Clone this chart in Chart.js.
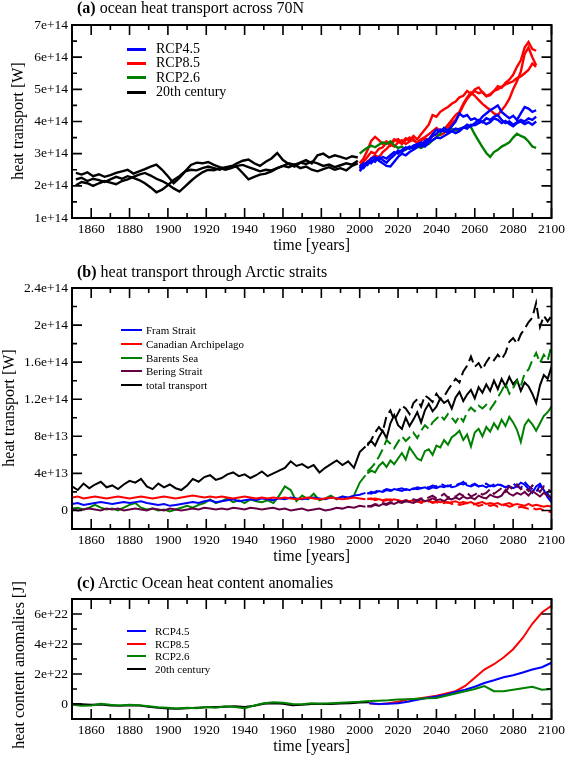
<!DOCTYPE html>
<html>
<head>
<meta charset="utf-8">
<script src="https://cdn.jsdelivr.net/npm/chart.js@4/dist/chart.umd.min.js"></script>
<style>
  html, body { margin: 0; padding: 0; background: #fff; overflow: hidden; }
  #page { position: relative; width: 568px; height: 757px; overflow: hidden; font-family: "Liberation Serif", "DejaVu Serif", serif; color: #000; }
  .box { position: absolute; left: 0; width: 568px; }
  .ptitle { position: absolute; left: 77px; font-size: 16px; line-height: 20px; white-space: nowrap; }
  .ytitle { position: absolute; font-size: 16px; white-space: nowrap; transform: translate(-50%, -50%) rotate(-90deg); }
  .leg { position: absolute; white-space: nowrap; }
  .leg span { position: absolute; left: 0; }
</style>
</head>
<body>
<div id="page">
  <div class="box" style="top:0;height:257px"><canvas id="chart_a"></canvas></div>
  <div class="box" style="top:257px;height:311px"><canvas id="chart_b"></canvas></div>
  <div class="box" style="top:568px;height:190px"><canvas id="chart_c"></canvas></div>

  <div class="ptitle" style="top:-2px"><b>(a)</b> ocean heat transport across 70N</div>
  <div class="ptitle" style="top:262px"><b>(b)</b> heat transport through Arctic straits</div>
  <div class="ptitle" style="top:573px"><b>(c)</b> Arctic Ocean heat content anomalies</div>

  <div class="ytitle" style="left:18px;top:121px">heat transport [W]</div>
  <div class="ytitle" style="left:9px;top:408px">heat transport [W]</div>
  <div class="ytitle" style="left:19px;top:665px">heat content anomalies [J]</div>

  <div id="legend_a"></div>
  <div id="legend_b"></div>
  <div id="legend_c"></div>
</div>

<script>
// ---------- panel (a): heat transport across 70N, units of 1e14 W ----------
var years_a_hist = [1852,1855,1858,1861,1864,1867,1870,1873,1876,1879,1882,1885,1888,1891,1894,1897,1900,1903,1906,1909,1912,1915,1918,1921,1924,1927,1930,1933,1936,1939,1942,1945,1948,1951,1954,1957,1960,1963,1966,1969,1972,1975,1978,1981,1984,1987,1990,1993,1996,1999];
var a_hist1 = [2.40,2.35,2.42,2.30,2.36,2.28,2.33,2.40,2.45,2.50,2.38,2.45,2.52,2.60,2.66,2.50,2.30,2.08,2.25,2.45,2.65,2.72,2.70,2.74,2.65,2.58,2.55,2.62,2.58,2.40,2.20,2.28,2.35,2.38,2.45,2.55,2.62,2.70,2.66,2.72,2.68,2.75,2.70,2.62,2.66,2.58,2.64,2.70,2.66,2.78];
var a_hist2 = [2.20,2.25,2.15,2.22,2.18,2.12,2.20,2.28,2.22,2.30,2.25,2.18,2.08,1.95,1.80,1.88,2.02,2.18,2.30,2.45,2.50,2.48,2.55,2.60,2.55,2.50,2.58,2.60,2.70,2.78,2.82,2.70,2.62,2.75,2.85,3.02,2.80,2.68,2.60,2.72,2.80,2.70,2.95,3.00,2.88,2.95,2.90,2.84,2.92,2.88];
var a_hist3 = [2.02,2.12,2.08,2.00,2.08,2.15,2.10,2.05,2.15,2.20,2.28,2.35,2.40,2.32,2.22,2.15,2.05,1.92,1.82,1.98,2.15,2.30,2.42,2.50,2.48,2.55,2.50,2.55,2.62,2.65,2.58,2.52,2.45,2.50,2.48,2.55,2.62,2.58,2.66,2.55,2.60,2.50,2.45,2.52,2.58,2.50,2.55,2.48,2.62,2.70];

var years_a_fut = [2000,2002,2004,2006,2008,2010,2012,2014,2016,2018,2020,2022,2024,2026,2028,2030,2032,2034,2036,2038,2040,2042,2044,2046,2048,2050,2052,2054,2056,2058,2060,2062,2064,2066,2068,2070,2072,2074,2076,2078,2080,2082,2084,2086,2088,2090,2092];
var a_rcp85_1 = [2.70,2.85,3.10,3.40,3.52,3.42,3.30,3.38,3.25,3.40,3.45,3.35,3.48,3.40,3.55,3.45,3.60,3.75,3.90,4.20,4.15,4.30,4.38,4.45,4.55,4.62,4.75,4.80,4.95,4.85,5.00,5.06,4.90,4.78,4.82,4.95,5.10,5.05,5.20,5.30,5.45,5.70,5.90,6.30,6.47,6.25,6.20];
var a_rcp85_2 = [2.60,2.75,2.90,3.05,3.00,3.15,3.20,3.35,3.30,3.45,3.38,3.30,3.42,3.50,3.40,3.35,3.45,3.52,3.60,3.70,3.80,3.72,3.75,3.90,4.05,4.20,4.30,4.55,4.75,4.90,4.80,4.67,4.55,4.45,4.36,4.25,4.20,4.35,4.50,4.70,5.00,5.25,5.55,6.10,6.30,6.00,5.75];
var a_rcp85_3 = [2.50,2.62,2.75,2.85,2.95,2.88,3.05,3.15,3.28,3.22,3.35,3.42,3.30,3.38,3.45,3.32,3.40,3.48,3.42,3.55,3.60,3.58,3.64,3.80,3.95,4.05,4.25,4.50,4.70,4.85,4.95,4.88,4.92,4.80,4.85,4.95,5.00,5.08,5.15,5.20,5.25,5.35,5.40,5.50,5.60,5.80,5.70];
var a_rcp45_1 = [2.45,2.60,2.75,2.70,2.85,2.80,2.90,2.85,2.95,3.05,3.00,3.12,3.20,3.15,3.25,3.30,3.22,3.40,3.45,3.60,3.75,3.68,3.80,3.72,3.85,4.00,4.25,4.15,4.20,4.05,4.10,4.00,4.15,4.25,4.35,4.42,4.50,4.30,4.20,4.10,4.18,4.05,4.25,4.45,4.40,4.30,4.35];
var a_rcp45_2 = [2.55,2.70,2.65,2.80,2.75,2.90,2.80,2.72,2.85,2.95,3.10,3.05,3.15,3.22,3.18,3.28,3.35,3.30,3.42,3.55,3.62,3.75,3.70,3.65,3.70,3.64,3.70,3.80,3.90,3.85,3.95,4.05,3.98,4.10,4.05,4.15,4.20,4.05,3.95,4.00,3.90,3.98,4.05,4.00,4.10,4.05,4.15];
var a_rcp45_3 = [2.65,2.55,2.70,2.85,2.90,2.78,2.70,2.62,2.60,2.75,2.90,3.00,2.95,3.05,3.12,3.20,3.28,3.22,3.35,3.42,3.50,3.48,3.55,3.62,3.70,3.78,3.75,3.82,3.78,3.90,3.88,3.95,4.00,3.92,3.98,4.10,4.05,3.95,4.02,3.92,3.85,3.95,4.00,3.92,3.98,3.90,4.00];
var a_rcp26 = [3.00,3.10,3.18,3.25,3.20,3.28,3.35,3.30,3.38,3.25,3.18,3.22,3.12,3.20,3.15,3.22,3.18,3.25,3.30,3.42,3.50,3.62,3.80,3.70,3.78,3.72,3.78,3.80,3.85,3.82,3.60,3.40,3.20,3.02,2.90,3.05,3.12,3.22,3.28,3.35,3.50,3.62,3.55,3.50,3.38,3.22,3.18];

var legend_a_names = ["RCP4.5", "RCP8.5", "RCP2.6", "20th century"];
var legend_a_colors = ["#0000ff", "#ff0000", "#008000", "#000000"];
var y_a_major = [1e14, 2e14, 3e14, 4e14, 5e14, 6e14, 7e14];
var y_a_minor = [1.5e14, 2.5e14, 3.5e14, 4.5e14, 5.5e14, 6.5e14];

// ---------- panel (b): straits, units of 1e13 W ----------
var years_b_hist = [1850,1853,1856,1859,1862,1865,1868,1871,1874,1877,1880,1883,1886,1889,1892,1895,1898,1901,1904,1907,1910,1913,1916,1919,1922,1925,1928,1931,1934,1937,1940,1943,1946,1949,1952,1955,1958,1961,1964,1967,1970,1973,1976,1979,1982,1985,1988,1991,1994,1997,2000,2003];
var b_total_hist = [2.6,2.2,2.9,2.4,2.8,3.1,2.5,2.7,2.3,2.8,3.2,3.0,3.4,2.6,2.3,2.9,2.5,2.8,2.4,2.2,2.7,3.4,3.1,3.6,3.8,3.3,3.5,3.9,4.1,3.7,3.9,3.5,3.8,4.2,3.7,4.0,4.3,4.6,5.3,4.8,5.0,4.6,4.9,4.1,4.6,5.0,5.4,4.9,5.3,4.6,6.3,6.9];
var b_barents_hist = [0.2,0.3,0.1,0.3,0.6,0.3,0.1,0.2,0.0,0.3,0.6,0.8,0.3,0.1,0.2,0.0,0.1,-0.1,0.1,0.3,0.5,0.3,0.6,0.8,1.2,0.8,1.0,1.3,0.9,1.1,0.8,1.2,1.0,0.9,1.1,0.8,1.6,2.6,2.2,1.0,1.6,1.2,1.8,1.1,1.3,1.6,1.2,1.5,1.3,1.6,3.0,3.8];
var b_fram_hist = [0.7,0.8,0.6,0.7,0.8,0.9,0.8,0.7,0.8,0.9,0.8,0.9,1.0,0.8,0.7,0.6,0.7,0.5,0.6,0.7,0.8,0.9,0.8,1.0,1.1,0.9,1.0,1.1,1.2,1.0,1.1,1.2,1.1,1.3,1.2,1.1,1.3,1.2,1.4,1.3,1.2,1.3,1.4,1.3,1.2,1.4,1.3,1.5,1.4,1.6,1.7,1.9];
var b_canadian_hist = [1.4,1.5,1.3,1.4,1.5,1.4,1.3,1.4,1.5,1.4,1.3,1.4,1.5,1.4,1.3,1.4,1.5,1.4,1.3,1.4,1.5,1.6,1.5,1.4,1.5,1.4,1.5,1.4,1.3,1.4,1.5,1.4,1.3,1.4,1.3,1.4,1.3,1.4,1.3,1.2,1.3,1.4,1.3,1.2,1.3,1.4,1.3,1.2,1.3,1.4,1.3,1.2];
var b_bering_hist = [0.2,0.0,0.1,0.2,0.1,0.0,0.2,0.1,0.2,0.0,0.1,0.2,0.1,0.0,0.2,0.1,0.0,0.2,0.1,0.0,0.1,0.2,0.1,0.3,0.2,0.1,0.2,0.1,0.3,0.2,0.1,0.3,0.2,0.1,0.2,0.3,0.1,0.2,0.0,0.1,0.2,0.0,0.1,0.2,0.0,0.1,0.3,0.2,0.4,0.3,0.5,0.4];

var years_b_fut = [2004,2006,2008,2010,2012,2014,2016,2018,2020,2022,2024,2026,2028,2030,2032,2034,2036,2038,2040,2042,2044,2046,2048,2050,2052,2054,2056,2058,2060,2062,2064,2066,2068,2070,2072,2074,2076,2078,2080,2082,2084,2086,2088,2090,2092,2094,2096,2098,2100];
var b_total_solid = [7.2,7.5,7.0,7.9,8.6,7.8,9.4,10.3,9.2,8.8,10.0,9.1,9.8,10.6,9.5,10.8,11.5,10.7,11.2,12.1,11.6,11.9,11.0,12.2,12.8,11.8,12.5,13.0,12.1,13.3,12.7,13.6,12.9,14.0,13.1,14.2,13.4,14.4,13.6,14.1,12.9,13.8,13.4,12.6,11.6,13.5,14.6,14.2,15.5];
var b_total_dash = [7.0,7.6,8.4,9.0,8.5,10.2,10.8,9.7,10.5,11.3,11.0,10.4,11.6,12.0,11.2,12.4,12.1,11.7,12.6,12.0,12.3,13.0,13.6,14.2,13.8,15.0,15.6,16.6,15.5,15.9,15.2,16.0,16.6,16.2,16.8,16.3,17.0,18.2,18.6,18.0,19.0,19.6,20.3,20.8,22.4,19.8,21.0,20.4,21.0];
var b_barents_solid = [4.0,4.3,4.1,4.8,5.2,4.7,5.4,5.0,5.6,6.2,5.5,6.8,6.2,5.6,5.4,6.4,6.6,6.0,7.0,6.8,7.6,7.1,7.9,8.2,8.6,7.6,8.2,6.9,8.4,8.8,8.0,9.0,8.5,9.4,8.8,9.8,9.1,10.1,9.5,8.7,7.4,9.2,9.8,9.3,8.6,9.4,10.2,10.6,11.2];
var b_barents_dash = [4.2,4.6,5.1,5.8,6.6,7.6,7.2,6.7,7.4,8.0,7.5,7.9,8.4,7.8,8.6,9.2,8.8,9.5,9.9,10.3,9.8,10.4,10.0,9.5,10.2,9.6,10.6,11.1,10.7,11.3,11.0,11.4,10.9,11.5,12.2,12.9,13.7,12.6,13.2,14.0,13.4,14.8,15.2,16.2,17.0,15.9,16.8,16.2,17.8];
var b_fram_solid = [1.8,2.0,1.9,2.1,2.0,2.2,2.1,2.3,2.2,2.1,2.3,2.2,2.4,2.3,2.4,2.5,2.3,2.5,2.4,2.6,2.5,2.7,2.5,2.6,2.8,3.1,2.7,2.6,2.8,2.6,2.7,2.5,2.7,2.6,2.8,2.7,2.5,2.6,2.4,2.6,3.0,2.8,2.3,1.9,2.6,2.9,2.2,1.4,0.9];
var b_fram_dash = [1.9,1.8,2.0,2.2,2.1,2.3,2.2,2.1,2.3,2.4,2.2,2.4,2.3,2.5,2.4,2.6,2.5,2.7,2.6,2.9,2.7,2.6,2.8,2.7,2.9,2.8,3.0,2.7,2.9,2.6,2.8,2.9,2.6,2.8,2.9,2.7,2.5,2.7,2.9,2.6,2.4,3.1,2.6,2.3,2.0,2.7,2.1,1.8,1.2];
var b_canadian_solid = [1.3,1.2,1.3,1.2,1.1,1.2,1.1,1.2,1.1,1.0,1.1,1.0,1.1,1.0,0.9,1.0,1.1,0.9,1.0,0.9,1.0,0.8,0.9,1.0,0.8,0.9,0.8,0.9,0.7,0.8,0.9,0.7,0.8,0.7,0.8,0.6,0.7,0.8,0.6,0.7,0.6,0.5,0.7,0.5,0.6,0.5,0.4,0.5,0.4];
var b_canadian_dash = [1.2,1.3,1.1,1.2,1.0,1.1,1.2,1.0,1.1,0.9,1.0,1.1,0.9,1.0,0.8,0.9,1.0,0.8,0.9,0.7,0.8,0.9,0.7,0.8,0.6,0.7,0.8,0.6,0.7,0.5,0.6,0.7,0.5,0.6,0.4,0.5,0.6,0.4,0.5,0.3,0.4,0.3,0.2,0.3,0.1,0.2,0.0,-0.1,-0.2];
var b_bering_solid = [0.5,0.4,0.6,0.5,0.7,0.6,0.8,0.7,0.9,0.8,1.0,0.9,0.8,1.0,1.2,1.0,1.1,1.3,1.1,1.2,1.0,1.3,1.2,1.4,1.2,1.5,1.3,1.4,1.2,1.6,1.4,1.3,1.7,1.5,1.4,1.6,2.2,1.8,1.6,1.9,1.7,2.0,1.6,2.1,1.8,1.5,1.9,1.6,1.4];
var b_bering_dash = [0.4,0.5,0.7,0.6,0.8,0.7,0.9,0.8,1.0,0.9,1.1,1.0,1.2,1.1,1.3,1.2,1.4,1.6,1.3,1.5,1.8,1.4,1.6,1.5,1.8,1.6,1.9,1.5,1.7,2.0,1.7,1.9,2.3,1.8,2.1,2.4,2.0,2.6,2.2,2.8,2.3,2.5,2.1,2.7,2.4,2.0,2.6,2.3,2.0];

var legend_b_names = ["Fram Strait", "Canadian Archipelago", "Barents Sea", "Bering Strait", "total transport"];
var legend_b_colors = ["#0000ff", "#ff0000", "#008000", "#660044", "#000000"];
var y_b_major = [0, 4e13, 8e13, 1.2e14, 1.6e14, 2e14, 2.4e14];
var y_b_minor = [-2e13, 2e13, 6e13, 1e14, 1.4e14, 1.8e14, 2.2e14];

// ---------- panel (c): heat content anomalies, units of 1e22 J ----------
var years_c_hist = [1850,1855,1860,1865,1870,1875,1880,1885,1890,1895,1900,1905,1910,1915,1920,1925,1930,1935,1940,1945,1950,1955,1960,1965,1970,1975,1980,1985,1990,1995,2000,2005];
var c_hist = [0.0,-0.02,-0.05,-0.03,-0.1,-0.12,-0.08,-0.1,-0.18,-0.25,-0.3,-0.32,-0.28,-0.25,-0.22,-0.2,-0.18,-0.15,-0.2,-0.12,0.02,0.05,0.02,-0.08,-0.05,0.0,0.02,0.0,0.03,0.05,0.1,0.12];
var c_hist_green = [-0.05,-0.12,-0.1,0.02,-0.05,-0.1,-0.05,-0.08,-0.15,-0.22,-0.25,-0.3,-0.25,-0.28,-0.2,-0.25,-0.15,-0.2,-0.28,-0.1,0.05,0.12,0.08,0.0,-0.02,0.05,0.02,0.05,0.08,0.12,0.15,0.2];
var years_c_fut = [2005,2010,2015,2020,2025,2030,2035,2040,2045,2050,2055,2060,2065,2070,2075,2080,2085,2090,2095,2100];
var c_rcp85 = [0.05,-0.02,0.05,0.15,0.3,0.35,0.45,0.55,0.7,0.85,1.2,1.75,2.3,2.65,3.1,3.65,4.4,5.35,6.1,6.55];
var c_rcp45 = [0.05,0.0,0.02,0.05,0.15,0.28,0.4,0.5,0.62,0.8,0.95,1.15,1.4,1.58,1.78,1.92,2.1,2.3,2.45,2.75];
var c_rcp26 = [0.2,0.22,0.25,0.3,0.32,0.35,0.38,0.4,0.55,0.7,0.85,1.0,1.2,0.85,0.85,0.95,1.05,1.15,0.95,1.0];

var legend_c_names = ["RCP4.5", "RCP8.5", "RCP2.6", "20th century"];
var legend_c_colors = ["#0000ff", "#ff0000", "#008000", "#000000"];
var y_c_major = [0, 2e22, 4e22, 6e22];
var y_c_minor = [-1e22, 1e22, 3e22, 5e22, 7e22];

var x_labels = [1860,1880,1900,1920,1940,1960,1980,2000,2020,2040,2060,2080,2100];

// ---------- helpers ----------
var make_points = function(years, values, unit) {
  return years.map((yr, i) => ({x: yr, y: values[i] * unit}));
};

var line = function(years, values, unit, color, width, dash) {
  return {
    data: make_points(years, values, unit),
    borderColor: color,
    backgroundColor: color,
    borderWidth: width,
    borderDash: dash || [],
    pointRadius: 0,
    tension: 0,
    fill: false
  };
};

var fmt_exp = function(v) {
  if (v === 0) return "0";
  return v.toExponential();
};

// frame + inward ticks on the four sides, like the original plots
var frame_ticks = {
  id: "frame_ticks",
  afterDraw(chart, args, opts) {
    const {ctx, chartArea: a} = chart;
    const sx = chart.scales.x, sy = chart.scales.y;
    ctx.save();
    ctx.strokeStyle = "#000";
    ctx.lineWidth = 1.6;
    ctx.beginPath();
    for (let yr = 1850; yr <= 2100; yr += 10) {
      const px = sx.getPixelForValue(yr);
      const len = yr % 20 === 0 ? 10 : 5;
      ctx.moveTo(px, a.bottom); ctx.lineTo(px, a.bottom - len);
      ctx.moveTo(px, a.top); ctx.lineTo(px, a.top + len);
    }
    const side = function(v, len) {
      const py = sy.getPixelForValue(v);
      ctx.moveTo(a.left, py); ctx.lineTo(a.left + len, py);
      ctx.moveTo(a.right, py); ctx.lineTo(a.right - len, py);
    };
    opts.major.forEach(v => side(v, 10));
    opts.minor.forEach(v => side(v, 5));
    ctx.stroke();
    ctx.lineWidth = 2;
    ctx.strokeRect(a.left, a.top, a.right - a.left, a.bottom - a.top);
    ctx.restore();
  }
};

var make_chart = function(id, datasets, ymin, ymax, ymajor, yminor, pad_top) {
  return new Chart(document.getElementById(id), {
    type: "line",
    data: {datasets: datasets},
    plugins: [frame_ticks],
    options: {
      responsive: true,
      maintainAspectRatio: false,
      animation: false,
      layout: {padding: {top: pad_top, right: 15, left: 0, bottom: 0}},
      plugins: {
        legend: {display: false},
        tooltip: {enabled: false},
        frame_ticks: {major: ymajor, minor: yminor}
      },
      scales: {
        x: {
          type: "linear",
          min: 1850,
          max: 2100,
          afterBuildTicks: (s) => { s.ticks = x_labels.map(v => ({value: v})); },
          afterFit: (s) => { s.height = 39; },
          grid: {display: false, drawTicks: false},
          border: {display: false},
          ticks: {
            color: "#000",
            padding: 3,
            maxRotation: 0,
            autoSkip: false,
            font: {family: "'Liberation Serif', serif", size: 13.5},
            callback: (v) => String(v)
          },
          title: {
            display: true,
            text: "time [years]",
            color: "#000",
            padding: {top: 0, bottom: 2},
            font: {family: "'Liberation Serif', serif", size: 16}
          }
        },
        y: {
          min: ymin,
          max: ymax,
          afterBuildTicks: (s) => { s.ticks = ymajor.map(v => ({value: v})); },
          afterFit: (s) => { s.width = 72; },
          grid: {display: false, drawTicks: false},
          border: {display: false},
          ticks: {
            color: "#000",
            padding: 4,
            autoSkip: false,
            font: {family: "'Liberation Serif', serif", size: 13.5},
            callback: (v) => fmt_exp(v)
          }
        }
      }
    }
  });
};

var make_legend = function(id, names, colors, rows_y, line_x, line_w, text_x, thick, font_size) {
  const holder = document.getElementById(id);
  names.forEach((name, i) => {
    const row = document.createElement("div");
    row.className = "leg";
    row.style.left = line_x + "px";
    row.style.top = (rows_y[i] - 8) + "px";
    row.style.height = "16px";
    row.style.lineHeight = "16px";
    row.style.fontSize = font_size + "px";
    const mark = document.createElement("span");
    mark.style.top = (8 - thick / 2) + "px";
    mark.style.width = line_w + "px";
    mark.style.height = thick + "px";
    mark.style.background = colors[i];
    const label = document.createElement("span");
    label.style.left = (text_x - line_x) + "px";
    label.style.top = "0px";
    label.textContent = name;
    row.appendChild(mark);
    row.appendChild(label);
    holder.appendChild(row);
  });
};

// ---------- build ----------
var E14 = 1e14, E13 = 1e13, E22 = 1e22;

var datasets_a = [
  line(years_a_hist, a_hist1, E14, "#000000", 2.4),
  line(years_a_hist, a_hist2, E14, "#000000", 2.4),
  line(years_a_hist, a_hist3, E14, "#000000", 2.4),
  line(years_a_fut, a_rcp45_1, E14, "#0000ff", 2.4),
  line(years_a_fut, a_rcp45_2, E14, "#0000ff", 2.4),
  line(years_a_fut, a_rcp45_3, E14, "#0000ff", 2.4),
  line(years_a_fut, a_rcp26, E14, "#008000", 2.4),
  line(years_a_fut, a_rcp85_1, E14, "#ff0000", 2.4),
  line(years_a_fut, a_rcp85_2, E14, "#ff0000", 2.4),
  line(years_a_fut, a_rcp85_3, E14, "#ff0000", 2.4)
];

var dash = [11, 5];
var datasets_b = [
  line(years_b_hist, b_bering_hist, E13, "#660044", 2),
  line(years_b_fut, b_bering_solid, E13, "#660044", 2),
  line(years_b_fut, b_bering_dash, E13, "#660044", 2, dash),
  line(years_b_hist, b_canadian_hist, E13, "#ff0000", 2),
  line(years_b_fut, b_canadian_solid, E13, "#ff0000", 2),
  line(years_b_fut, b_canadian_dash, E13, "#ff0000", 2, dash),
  line(years_b_hist, b_fram_hist, E13, "#0000ff", 2),
  line(years_b_fut, b_fram_solid, E13, "#0000ff", 2),
  line(years_b_fut, b_fram_dash, E13, "#0000ff", 2, dash),
  line(years_b_hist, b_barents_hist, E13, "#008000", 2),
  line(years_b_fut, b_barents_solid, E13, "#008000", 2),
  line(years_b_fut, b_barents_dash, E13, "#008000", 2, dash),
  line(years_b_hist, b_total_hist, E13, "#000000", 2),
  line(years_b_fut, b_total_solid, E13, "#000000", 2),
  line(years_b_fut, b_total_dash, E13, "#000000", 2, dash)
];

var datasets_c = [
  line(years_c_hist, c_hist_green, E22, "#008000", 2),
  line(years_c_fut, c_rcp26, E22, "#008000", 2),
  line(years_c_fut, c_rcp45, E22, "#0000ff", 2),
  line(years_c_fut, c_rcp85, E22, "#ff0000", 2),
  line(years_c_hist, c_hist, E22, "#000000", 2)
];

make_chart("chart_a", datasets_a, 1e14, 7e14, y_a_major, y_a_minor, 25);
make_chart("chart_b", datasets_b, -2e13, 2.4e14, y_b_major, y_b_minor, 31);
make_chart("chart_c", datasets_c, -1e22, 7e22, y_c_major, y_c_minor, 31);

make_legend("legend_a", legend_a_names, legend_a_colors, [49, 63, 77.5, 92], 127, 19, 156, 3, 14);
make_legend("legend_b", legend_b_names, legend_b_colors, [330, 344, 358, 371, 385], 121, 21, 146, 2, 11);
make_legend("legend_c", legend_c_names, legend_c_colors, [631, 644, 656, 669], 127, 19, 155, 2, 11);
</script>
</body>
</html>
